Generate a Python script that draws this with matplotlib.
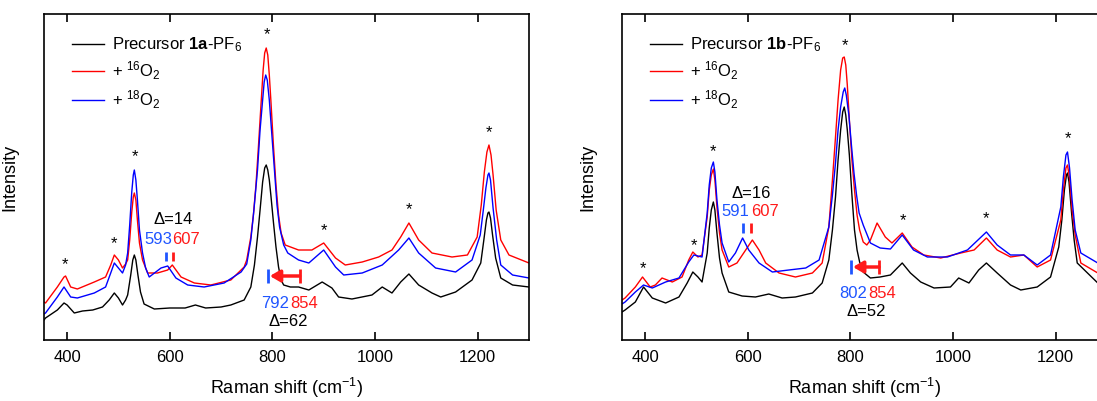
import matplotlib
matplotlib.use('Agg')
import matplotlib.pyplot as plt

plt.rcParams['font.family'] = ['Liberation Sans', 'DejaVu Sans']
plt.rcParams['mathtext.fontset'] = 'custom'
plt.rcParams['mathtext.rm'] = 'Liberation Sans'
plt.rcParams['mathtext.bf'] = 'Liberation Sans:bold'
plt.rcParams['mathtext.it'] = 'Liberation Sans:italic'

# spectra as (Raman shift, intensity) points
# ---- panel a (1a-PF6) ----
a_black = [(355, 20), (358, 22), (381, 30), (394, 37), (400, 35), (414, 27), (430, 29), (450, 30), (469, 33),
           (482, 40), (492, 47), (500, 42), (508, 35), (514, 40), (518, 45), (524, 65), (528, 80), (531, 85),
           (534, 80), (538, 65), (543, 48), (550, 36), (570, 31), (600, 32), (630, 32), (650, 35), (670, 32),
           (700, 33), (719, 35), (745, 40), (758, 53), (765, 75), (771, 103), (776, 130), (781, 158), (785, 172),
           (788, 175), (791, 170), (794, 160), (797, 145), (802, 118), (807, 93), (812, 73), (817, 60), (822, 55),
           (835, 53), (851, 53), (871, 50), (897, 58), (916, 52), (929, 43), (955, 41), (994, 45), (1014, 53),
           (1033, 47), (1050, 58), (1066, 66), (1085, 55), (1111, 47), (1128, 43), (1157, 48), (1189, 60),
           (1206, 77), (1212, 100), (1217, 120), (1220, 127), (1222, 128), (1225, 122), (1229, 105), (1235, 82),
           (1245, 62), (1268, 55), (1300, 53)]
a_red = [(355, 38), (358, 37), (381, 53), (394, 63), (397, 64), (407, 53), (420, 51), (453, 58), (475, 63),
         (485, 75), (492, 85), (500, 80), (508, 72), (514, 76), (518, 80), (522, 100), (526, 128), (529, 143),
         (531, 147), (534, 140), (537, 120), (541, 97), (547, 80), (557, 67), (576, 67), (596, 70), (605, 75),
         (622, 63), (648, 57), (680, 55), (719, 60), (745, 73), (750, 80), (758, 103), (763, 125), (768, 155),
         (773, 195), (778, 237), (782, 270), (785, 287), (788, 292), (791, 285), (794, 265), (797, 240),
         (802, 195), (807, 155), (812, 125), (817, 107), (825, 95), (851, 90), (877, 90), (900, 97), (923, 82),
         (942, 75), (975, 78), (1007, 83), (1033, 90), (1050, 103), (1066, 117), (1085, 100), (1111, 87),
         (1150, 83), (1180, 85), (1199, 103), (1207, 135), (1213, 168), (1218, 188), (1222, 195), (1226, 185),
         (1230, 165), (1236, 130), (1245, 100), (1261, 85), (1300, 77)]
a_blue = [(355, 26), (358, 27), (381, 43), (394, 53), (407, 43), (420, 42), (453, 47), (475, 53), (485, 67),
          (492, 77), (500, 72), (508, 67), (514, 75), (518, 87), (522, 115), (526, 148), (529, 165), (531, 170),
          (534, 160), (537, 140), (541, 110), (547, 87), (553, 72), (560, 63), (583, 72), (596, 74), (612, 62),
          (635, 55), (667, 53), (706, 57), (739, 68), (750, 76), (758, 100), (764, 130), (771, 170), (776, 210),
          (781, 240), (784, 258), (787, 265), (790, 260), (794, 240), (799, 205), (804, 170), (809, 135),
          (814, 113), (822, 95), (830, 87), (851, 80), (871, 77), (900, 90), (923, 73), (939, 65), (975, 67),
          (1014, 75), (1046, 90), (1066, 102), (1085, 87), (1118, 72), (1157, 68), (1189, 80), (1205, 105),
          (1211, 130), (1216, 152), (1220, 165), (1222, 167), (1225, 160), (1230, 132), (1237, 100), (1245, 75),
          (1268, 65), (1300, 62)]

# ---- panel b (1b-PF6) ----
b_black = [(355, 28), (361, 30), (381, 38), (397, 53), (414, 42), (440, 37), (466, 43), (482, 57), (493, 68),
           (503, 63), (511, 58), (521, 87), (525, 112), (529, 130), (533, 138), (536, 130), (540, 107), (545, 82),
           (550, 67), (563, 48), (589, 44), (615, 43), (641, 46), (667, 42), (693, 43), (726, 47), (745, 57),
           (758, 80), (765, 110), (771, 143), (776, 180), (781, 210), (785, 228), (788, 233), (791, 225),
           (794, 210), (798, 185), (803, 145), (808, 110), (813, 90), (818, 78), (825, 68), (839, 62), (858, 63),
           (878, 65), (901, 77), (917, 67), (937, 58), (963, 52), (995, 53), (1011, 62), (1031, 57), (1050, 70),
           (1065, 77), (1086, 67), (1112, 55), (1132, 50), (1164, 53), (1190, 63), (1206, 93), (1212, 120),
           (1217, 150), (1221, 165), (1223, 167), (1226, 158), (1231, 127), (1236, 100), (1242, 77), (1262, 67),
           (1282, 57), (1300, 55)]
b_red = [(355, 40), (361, 42), (381, 53), (395, 63), (410, 53), (420, 55), (433, 62), (453, 58), (472, 63),
         (485, 80), (493, 88), (503, 83), (511, 85), (521, 123), (525, 150), (529, 165), (533, 171), (536, 160),
         (540, 133), (545, 107), (550, 90), (563, 73), (579, 77), (596, 90), (609, 100), (622, 90), (635, 77),
         (661, 67), (693, 63), (726, 67), (745, 77), (758, 113), (765, 160), (771, 203), (776, 240), (781, 270),
         (785, 282), (788, 283), (791, 275), (794, 255), (798, 220), (803, 180), (808, 150), (813, 125),
         (818, 110), (825, 98), (832, 95), (839, 100), (852, 117), (868, 103), (881, 97), (901, 107), (920, 93),
         (943, 85), (976, 82), (1015, 87), (1041, 90), (1065, 102), (1086, 90), (1112, 83), (1138, 85),
         (1164, 73), (1190, 80), (1210, 120), (1215, 150), (1220, 172), (1223, 175), (1227, 162), (1232, 130),
         (1238, 105), (1249, 77), (1282, 67), (1300, 65)]
b_blue = [(355, 36), (361, 38), (381, 48), (397, 55), (414, 52), (440, 58), (466, 62), (485, 78), (495, 85),
          (511, 83), (521, 127), (525, 155), (529, 172), (533, 178), (536, 168), (540, 140), (545, 115),
          (550, 97), (563, 78), (576, 87), (590, 102), (602, 90), (622, 77), (648, 68), (680, 70), (713, 72),
          (739, 80), (758, 113), (765, 145), (771, 177), (776, 210), (781, 233), (786, 248), (789, 252),
          (792, 245), (797, 225), (802, 195), (807, 167), (812, 145), (817, 127), (825, 115), (839, 97),
          (858, 92), (878, 91), (901, 105), (923, 90), (950, 83), (989, 83), (1028, 90), (1065, 108), (1086, 95),
          (1112, 85), (1138, 85), (1164, 75), (1190, 85), (1210, 133), (1215, 163), (1220, 185), (1223, 188),
          (1227, 172), (1232, 140), (1238, 110), (1249, 87), (1282, 77), (1300, 75)]

# asterisks over the marked bands
a_star_w = [395, 492, 532, 789, 900, 1066, 1223]
a_star_i = [75, 96, 183, 305, 109, 130, 207]
b_star_w = [395, 495, 533, 789, 903, 1065, 1224]
b_star_i = [71, 94, 188, 294, 119, 121, 201]

panels = [
    dict(black=a_black, red=a_red, blue=a_blue, stars=(a_star_w, a_star_i), name='1a',
         low=('593', '607', 'Δ=14'), low_pos=(593, 607), low_y=101, low_bar=(79, 88), sep=0,
         high=('792', '854', 'Δ=62'), high_pos=(791, 853), high_y=64, high_txt=36),
    dict(black=b_black, red=b_red, blue=b_blue, stars=(b_star_w, b_star_i), name='1b',
         low=('591', '607', 'Δ=16'), low_pos=(591, 607), low_y=128, low_bar=(107, 117), sep=4,
         high=('802', '854', 'Δ=52'), high_pos=(801, 856), high_y=73, high_txt=47),
]

TXT_BLUE = '#1f55ff'
TXT_RED = '#ff1a1a'

fig = plt.figure(figsize=(10.97, 4.01), dpi=100)
lefts = [44 / 1097, 622 / 1097]

for p, left in zip(panels, lefts):
    ax = fig.add_axes([left, 61 / 401, 485 / 1097, 326 / 401])
    for key, col, lab in [('black', 'black', r'Precursor $\mathbf{%s}$-PF$_6$' % p['name']),
                          ('red', 'red', r'+ $^{16}$O$_2$'),
                          ('blue', 'blue', r'+ $^{18}$O$_2$')]:
        w, i = zip(*p[key])
        ax.plot(w, i, color=col, lw=1.0, label=lab)

    for sw, si in zip(*p['stars']):
        ax.text(sw, si, '*', ha='center', va='center', fontsize=12)

    # low-frequency pair labels
    bw, rw = p['low_pos']
    ly = p['low_y']
    ax.text(604 - p['sep'] / 2, ly, p['low'][0], color=TXT_BLUE, ha='right', va='center', fontsize=12)
    ax.text(604 + p['sep'] / 2, ly, p['low'][1], color=TXT_RED, ha='left', va='center', fontsize=12)
    ax.text(607, ly + 19, p['low'][2], color='black', ha='center', va='center', fontsize=12)
    ax.vlines(bw, *p['low_bar'], color=TXT_BLUE, lw=2)
    ax.vlines(rw, *p['low_bar'], color=TXT_RED, lw=2)

    # high-frequency shift arrow
    bw, rw = p['high_pos']
    hy = p['high_y']
    ax.vlines(bw, hy - 7, hy + 7, color=TXT_BLUE, lw=2)
    ax.vlines(rw, hy - 7, hy + 7, color=TXT_RED, lw=2)
    ax.annotate('', xy=(bw + 4, hy), xytext=(rw, hy),
                arrowprops=dict(arrowstyle='-|>,head_width=0.35,head_length=0.6', color=TXT_RED, lw=2.5,
                                shrinkA=0, shrinkB=0))
    ty = p['high_txt']
    ax.text(832, ty, p['high'][0], color=TXT_BLUE, ha='right', va='center', fontsize=12)
    ax.text(834, ty, p['high'][1], color=TXT_RED, ha='left', va='center', fontsize=12)
    ax.text(830, ty - 18, p['high'][2], color='black', ha='center', va='center', fontsize=12)

    ax.set_xlim(355, 1300)
    ax.set_ylim(0, 326)
    ax.set_xticks([400, 600, 800, 1000, 1200])
    ax.set_yticks([])
    ax.tick_params(axis='x', direction='in', top=True, length=6, width=1.2, labelsize=12, pad=7)
    for s in ax.spines.values():
        s.set_linewidth(1.2)
    ax.set_xlabel('Raman shift (cm$^{-1}$)', fontsize=13, labelpad=8)
    ax.set_ylabel('Intensity', fontsize=13)
    ax.yaxis.set_label_coords(-0.053, 0.5)

    ax.legend(loc='upper left', frameon=False, fontsize=12, handlelength=1.9, handletextpad=0.5,
              labelspacing=0.35, bbox_to_anchor=(0.045, 0.955), borderaxespad=0)

fig.savefig('out.png', dpi=100)
